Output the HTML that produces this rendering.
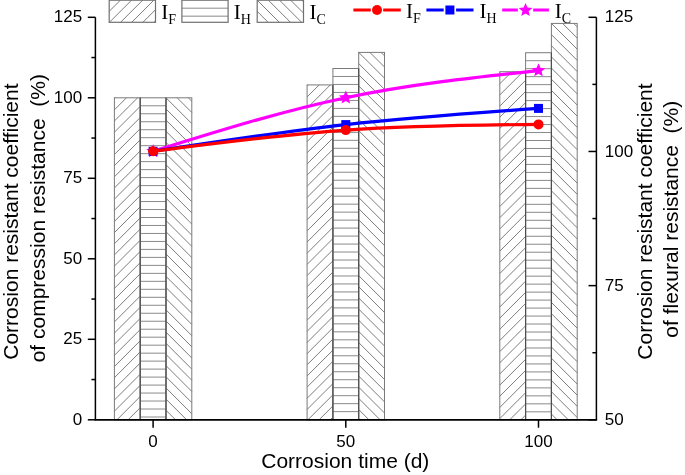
<!DOCTYPE html><html><head><meta charset="utf-8"><style>html,body{margin:0;padding:0;background:#fff;overflow:hidden}svg{display:block;will-change:transform}text{font-family:"Liberation Sans",sans-serif}text.s{font-family:"Liberation Serif",serif}</style></head><body><svg width="685" height="475" viewBox="0 0 685 475" fill="#000"><path d="M114.40,98.70L115.30,97.80M114.40,109.86L126.46,97.80M114.40,121.02L137.62,97.80M114.40,132.18L140.20,106.38M114.40,143.34L140.20,117.54M114.40,154.50L140.20,128.70M114.40,165.66L140.20,139.86M114.40,176.82L140.20,151.02M114.40,187.98L140.20,162.18M114.40,199.14L140.20,173.34M114.40,210.30L140.20,184.50M114.40,221.46L140.20,195.66M114.40,232.62L140.20,206.82M114.40,243.78L140.20,217.98M114.40,254.94L140.20,229.14M114.40,266.10L140.20,240.30M114.40,277.26L140.20,251.46M114.40,288.42L140.20,262.62M114.40,299.58L140.20,273.78M114.40,310.74L140.20,284.94M114.40,321.90L140.20,296.10M114.40,333.06L140.20,307.26M114.40,344.22L140.20,318.42M114.40,355.38L140.20,329.58M114.40,366.54L140.20,340.74M114.40,377.70L140.20,351.90M114.40,388.86L140.20,363.06M114.40,400.02L140.20,374.22M114.40,411.18L140.20,385.38M116.94,419.80L140.20,396.54M128.10,419.80L140.20,407.70M139.26,419.80L140.20,418.86" stroke="#5c5c5c" stroke-width="0.8" fill="none"/><rect x="114.40" y="97.80" width="25.8" height="322.00" fill="none" stroke="#7a7a7a" stroke-width="1.0"/><path d="M140.20,105.78L166.00,105.78M140.20,113.76L166.00,113.76M140.20,121.74L166.00,121.74M140.20,129.72L166.00,129.72M140.20,137.70L166.00,137.70M140.20,145.68L166.00,145.68M140.20,153.66L166.00,153.66M140.20,161.64L166.00,161.64M140.20,169.62L166.00,169.62M140.20,177.60L166.00,177.60M140.20,185.58L166.00,185.58M140.20,193.56L166.00,193.56M140.20,201.54L166.00,201.54M140.20,209.52L166.00,209.52M140.20,217.50L166.00,217.50M140.20,225.48L166.00,225.48M140.20,233.46L166.00,233.46M140.20,241.44L166.00,241.44M140.20,249.42L166.00,249.42M140.20,257.40L166.00,257.40M140.20,265.38L166.00,265.38M140.20,273.36L166.00,273.36M140.20,281.34L166.00,281.34M140.20,289.32L166.00,289.32M140.20,297.30L166.00,297.30M140.20,305.28L166.00,305.28M140.20,313.26L166.00,313.26M140.20,321.24L166.00,321.24M140.20,329.22L166.00,329.22M140.20,337.20L166.00,337.20M140.20,345.18L166.00,345.18M140.20,353.16L166.00,353.16M140.20,361.14L166.00,361.14M140.20,369.12L166.00,369.12M140.20,377.10L166.00,377.10M140.20,385.08L166.00,385.08M140.20,393.06L166.00,393.06M140.20,401.04L166.00,401.04M140.20,409.02L166.00,409.02M140.20,417.00L166.00,417.00" stroke="#6c6c6c" stroke-width="0.8" fill="none"/><rect x="140.20" y="97.80" width="25.8" height="322.00" fill="none" stroke="#7a7a7a" stroke-width="1.0"/><path d="M166.00,97.80L191.80,123.60M166.00,108.96L191.80,134.76M166.00,120.12L191.80,145.92M166.00,131.28L191.80,157.08M166.00,142.44L191.80,168.24M166.00,153.60L191.80,179.40M166.00,164.76L191.80,190.56M166.00,175.92L191.80,201.72M166.00,187.08L191.80,212.88M166.00,198.24L191.80,224.04M166.00,209.40L191.80,235.20M166.00,220.56L191.80,246.36M166.00,231.72L191.80,257.52M166.00,242.88L191.80,268.68M166.00,254.04L191.80,279.84M166.00,265.20L191.80,291.00M166.00,276.36L191.80,302.16M166.00,287.52L191.80,313.32M166.00,298.68L191.80,324.48M166.00,309.84L191.80,335.64M166.00,321.00L191.80,346.80M166.00,332.16L191.80,357.96M166.00,343.32L191.80,369.12M166.00,354.48L191.80,380.28M166.00,365.64L191.80,391.44M166.00,376.80L191.80,402.60M166.00,387.96L191.80,413.76M166.00,399.12L186.68,419.80M166.00,410.28L175.52,419.80M177.16,97.80L191.80,112.44M188.32,97.80L191.80,101.28" stroke="#5c5c5c" stroke-width="0.8" fill="none"/><rect x="166.00" y="97.80" width="25.8" height="322.00" fill="none" stroke="#7a7a7a" stroke-width="1.0"/><line x1="140.20" y1="97.80" x2="140.20" y2="419.8" stroke="#4c4c4c" stroke-width="1.1"/><line x1="166.00" y1="97.80" x2="166.00" y2="419.8" stroke="#4c4c4c" stroke-width="1.1"/><path d="M307.10,85.82L308.00,84.92M307.10,96.98L319.16,84.92M307.10,108.14L330.32,84.92M307.10,119.30L332.90,93.50M307.10,130.46L332.90,104.66M307.10,141.62L332.90,115.82M307.10,152.78L332.90,126.98M307.10,163.94L332.90,138.14M307.10,175.10L332.90,149.30M307.10,186.26L332.90,160.46M307.10,197.42L332.90,171.62M307.10,208.58L332.90,182.78M307.10,219.74L332.90,193.94M307.10,230.90L332.90,205.10M307.10,242.06L332.90,216.26M307.10,253.22L332.90,227.42M307.10,264.38L332.90,238.58M307.10,275.54L332.90,249.74M307.10,286.70L332.90,260.90M307.10,297.86L332.90,272.06M307.10,309.02L332.90,283.22M307.10,320.18L332.90,294.38M307.10,331.34L332.90,305.54M307.10,342.50L332.90,316.70M307.10,353.66L332.90,327.86M307.10,364.82L332.90,339.02M307.10,375.98L332.90,350.18M307.10,387.14L332.90,361.34M307.10,398.30L332.90,372.50M307.10,409.46L332.90,383.66M307.92,419.80L332.90,394.82M319.08,419.80L332.90,405.98M330.24,419.80L332.90,417.14" stroke="#5c5c5c" stroke-width="0.8" fill="none"/><rect x="307.10" y="84.92" width="25.8" height="334.88" fill="none" stroke="#7a7a7a" stroke-width="1.0"/><path d="M332.90,76.48L358.70,76.48M332.90,84.46L358.70,84.46M332.90,92.44L358.70,92.44M332.90,100.42L358.70,100.42M332.90,108.40L358.70,108.40M332.90,116.38L358.70,116.38M332.90,124.36L358.70,124.36M332.90,132.34L358.70,132.34M332.90,140.32L358.70,140.32M332.90,148.30L358.70,148.30M332.90,156.28L358.70,156.28M332.90,164.26L358.70,164.26M332.90,172.24L358.70,172.24M332.90,180.22L358.70,180.22M332.90,188.20L358.70,188.20M332.90,196.18L358.70,196.18M332.90,204.16L358.70,204.16M332.90,212.14L358.70,212.14M332.90,220.12L358.70,220.12M332.90,228.10L358.70,228.10M332.90,236.08L358.70,236.08M332.90,244.06L358.70,244.06M332.90,252.04L358.70,252.04M332.90,260.02L358.70,260.02M332.90,268.00L358.70,268.00M332.90,275.98L358.70,275.98M332.90,283.96L358.70,283.96M332.90,291.94L358.70,291.94M332.90,299.92L358.70,299.92M332.90,307.90L358.70,307.90M332.90,315.88L358.70,315.88M332.90,323.86L358.70,323.86M332.90,331.84L358.70,331.84M332.90,339.82L358.70,339.82M332.90,347.80L358.70,347.80M332.90,355.78L358.70,355.78M332.90,363.76L358.70,363.76M332.90,371.74L358.70,371.74M332.90,379.72L358.70,379.72M332.90,387.70L358.70,387.70M332.90,395.68L358.70,395.68M332.90,403.66L358.70,403.66M332.90,411.64L358.70,411.64" stroke="#6c6c6c" stroke-width="0.8" fill="none"/><rect x="332.90" y="68.50" width="25.8" height="351.30" fill="none" stroke="#7a7a7a" stroke-width="1.0"/><path d="M358.70,52.40L384.50,78.20M358.70,63.56L384.50,89.36M358.70,74.72L384.50,100.52M358.70,85.88L384.50,111.68M358.70,97.04L384.50,122.84M358.70,108.20L384.50,134.00M358.70,119.36L384.50,145.16M358.70,130.52L384.50,156.32M358.70,141.68L384.50,167.48M358.70,152.84L384.50,178.64M358.70,164.00L384.50,189.80M358.70,175.16L384.50,200.96M358.70,186.32L384.50,212.12M358.70,197.48L384.50,223.28M358.70,208.64L384.50,234.44M358.70,219.80L384.50,245.60M358.70,230.96L384.50,256.76M358.70,242.12L384.50,267.92M358.70,253.28L384.50,279.08M358.70,264.44L384.50,290.24M358.70,275.60L384.50,301.40M358.70,286.76L384.50,312.56M358.70,297.92L384.50,323.72M358.70,309.08L384.50,334.88M358.70,320.24L384.50,346.04M358.70,331.40L384.50,357.20M358.70,342.56L384.50,368.36M358.70,353.72L384.50,379.52M358.70,364.88L384.50,390.68M358.70,376.04L384.50,401.84M358.70,387.20L384.50,413.00M358.70,398.36L380.14,419.80M358.70,409.52L368.98,419.80M369.86,52.40L384.50,67.04M381.02,52.40L384.50,55.88" stroke="#5c5c5c" stroke-width="0.8" fill="none"/><rect x="358.70" y="52.40" width="25.8" height="367.40" fill="none" stroke="#7a7a7a" stroke-width="1.0"/><line x1="332.90" y1="84.92" x2="332.90" y2="419.8" stroke="#4c4c4c" stroke-width="1.1"/><line x1="358.70" y1="68.50" x2="358.70" y2="419.8" stroke="#4c4c4c" stroke-width="1.1"/><path d="M499.80,72.62L500.70,71.72M499.80,83.78L511.86,71.72M499.80,94.94L523.02,71.72M499.80,106.10L525.60,80.30M499.80,117.26L525.60,91.46M499.80,128.42L525.60,102.62M499.80,139.58L525.60,113.78M499.80,150.74L525.60,124.94M499.80,161.90L525.60,136.10M499.80,173.06L525.60,147.26M499.80,184.22L525.60,158.42M499.80,195.38L525.60,169.58M499.80,206.54L525.60,180.74M499.80,217.70L525.60,191.90M499.80,228.86L525.60,203.06M499.80,240.02L525.60,214.22M499.80,251.18L525.60,225.38M499.80,262.34L525.60,236.54M499.80,273.50L525.60,247.70M499.80,284.66L525.60,258.86M499.80,295.82L525.60,270.02M499.80,306.98L525.60,281.18M499.80,318.14L525.60,292.34M499.80,329.30L525.60,303.50M499.80,340.46L525.60,314.66M499.80,351.62L525.60,325.82M499.80,362.78L525.60,336.98M499.80,373.94L525.60,348.14M499.80,385.10L525.60,359.30M499.80,396.26L525.60,370.46M499.80,407.42L525.60,381.62M499.80,418.58L525.60,392.78M509.74,419.80L525.60,403.94M520.90,419.80L525.60,415.10" stroke="#5c5c5c" stroke-width="0.8" fill="none"/><rect x="499.80" y="71.72" width="25.8" height="348.08" fill="none" stroke="#7a7a7a" stroke-width="1.0"/><path d="M525.60,60.70L551.40,60.70M525.60,68.68L551.40,68.68M525.60,76.66L551.40,76.66M525.60,84.64L551.40,84.64M525.60,92.62L551.40,92.62M525.60,100.60L551.40,100.60M525.60,108.58L551.40,108.58M525.60,116.56L551.40,116.56M525.60,124.54L551.40,124.54M525.60,132.52L551.40,132.52M525.60,140.50L551.40,140.50M525.60,148.48L551.40,148.48M525.60,156.46L551.40,156.46M525.60,164.44L551.40,164.44M525.60,172.42L551.40,172.42M525.60,180.40L551.40,180.40M525.60,188.38L551.40,188.38M525.60,196.36L551.40,196.36M525.60,204.34L551.40,204.34M525.60,212.32L551.40,212.32M525.60,220.30L551.40,220.30M525.60,228.28L551.40,228.28M525.60,236.26L551.40,236.26M525.60,244.24L551.40,244.24M525.60,252.22L551.40,252.22M525.60,260.20L551.40,260.20M525.60,268.18L551.40,268.18M525.60,276.16L551.40,276.16M525.60,284.14L551.40,284.14M525.60,292.12L551.40,292.12M525.60,300.10L551.40,300.10M525.60,308.08L551.40,308.08M525.60,316.06L551.40,316.06M525.60,324.04L551.40,324.04M525.60,332.02L551.40,332.02M525.60,340.00L551.40,340.00M525.60,347.98L551.40,347.98M525.60,355.96L551.40,355.96M525.60,363.94L551.40,363.94M525.60,371.92L551.40,371.92M525.60,379.90L551.40,379.90M525.60,387.88L551.40,387.88M525.60,395.86L551.40,395.86M525.60,403.84L551.40,403.84M525.60,411.82L551.40,411.82" stroke="#6c6c6c" stroke-width="0.8" fill="none"/><rect x="525.60" y="52.72" width="25.8" height="367.08" fill="none" stroke="#7a7a7a" stroke-width="1.0"/><path d="M551.40,23.42L577.20,49.22M551.40,34.58L577.20,60.38M551.40,45.74L577.20,71.54M551.40,56.90L577.20,82.70M551.40,68.06L577.20,93.86M551.40,79.22L577.20,105.02M551.40,90.38L577.20,116.18M551.40,101.54L577.20,127.34M551.40,112.70L577.20,138.50M551.40,123.86L577.20,149.66M551.40,135.02L577.20,160.82M551.40,146.18L577.20,171.98M551.40,157.34L577.20,183.14M551.40,168.50L577.20,194.30M551.40,179.66L577.20,205.46M551.40,190.82L577.20,216.62M551.40,201.98L577.20,227.78M551.40,213.14L577.20,238.94M551.40,224.30L577.20,250.10M551.40,235.46L577.20,261.26M551.40,246.62L577.20,272.42M551.40,257.78L577.20,283.58M551.40,268.94L577.20,294.74M551.40,280.10L577.20,305.90M551.40,291.26L577.20,317.06M551.40,302.42L577.20,328.22M551.40,313.58L577.20,339.38M551.40,324.74L577.20,350.54M551.40,335.90L577.20,361.70M551.40,347.06L577.20,372.86M551.40,358.22L577.20,384.02M551.40,369.38L577.20,395.18M551.40,380.54L577.20,406.34M551.40,391.70L577.20,417.50M551.40,402.86L568.34,419.80M551.40,414.02L557.18,419.80M562.56,23.42L577.20,38.06M573.72,23.42L577.20,26.90" stroke="#5c5c5c" stroke-width="0.8" fill="none"/><rect x="551.40" y="23.42" width="25.8" height="396.38" fill="none" stroke="#7a7a7a" stroke-width="1.0"/><line x1="525.60" y1="71.72" x2="525.60" y2="419.8" stroke="#4c4c4c" stroke-width="1.1"/><line x1="551.40" y1="52.72" x2="551.40" y2="419.8" stroke="#4c4c4c" stroke-width="1.1"/><path d="M109.20,11.36L120.36,0.20M109.42,22.30L131.52,0.20M120.58,22.30L142.68,0.20M131.74,22.30L153.84,0.20M142.90,22.30L155.50,9.70M154.06,22.30L155.50,20.86" stroke="#5c5c5c" stroke-width="0.8" fill="none"/><rect x="109.2" y="0.2" width="46.30" height="22.10" fill="none" stroke="#707070" stroke-width="1.2"/><path d="M181.90,8.18L228.10,8.18M181.90,16.16L228.10,16.16" stroke="#6c6c6c" stroke-width="0.8" fill="none"/><rect x="181.9" y="0.2" width="46.20" height="22.10" fill="none" stroke="#707070" stroke-width="1.2"/><path d="M257.20,0.20L279.30,22.30M257.20,11.36L268.14,22.30M268.36,0.20L290.46,22.30M279.52,0.20L301.62,22.30M290.68,0.20L303.50,13.02M301.84,0.20L303.50,1.86" stroke="#5c5c5c" stroke-width="0.8" fill="none"/><rect x="257.2" y="0.2" width="46.30" height="22.10" fill="none" stroke="#707070" stroke-width="1.2"/><text x="161.2" y="19" class="s" font-size="21">I</text><text x="168.2" y="24" class="s" font-size="14">F</text><text x="233.8" y="19" class="s" font-size="21">I</text><text x="240.8" y="24" class="s" font-size="14">H</text><text x="309.5" y="19" class="s" font-size="21">I</text><text x="316.5" y="24" class="s" font-size="14">C</text><path d="M153.10,151.30 C217.33,131.23 281.57,111.17 345.80,97.70 C410.03,84.23 474.27,77.37 538.50,70.50" fill="none" stroke="#ff00ff" stroke-width="3.2"/><g fill="#ff00ff"><polygon points="153.10,144.05 155.02,148.66 160.00,149.06 156.20,152.31 157.36,157.17 153.10,154.56 148.84,157.17 150.00,152.31 146.20,149.06 151.18,148.66"/></g><g fill="#ff00ff"><polygon points="345.80,90.45 347.72,95.06 352.70,95.46 348.90,98.71 350.06,103.57 345.80,100.96 341.54,103.57 342.70,98.71 338.90,95.46 343.88,95.06"/></g><g fill="#ff00ff"><polygon points="538.50,63.25 540.42,67.86 545.40,68.26 541.60,71.51 542.76,76.37 538.50,73.76 534.24,76.37 535.40,71.51 531.60,68.26 536.58,67.86"/></g><path d="M153.10,151.30 C217.33,141.53 281.57,131.75 345.80,124.60 C410.03,117.45 474.27,112.92 538.50,108.40" fill="none" stroke="#0000ff" stroke-width="3.2"/><rect x="148.60" y="146.80" width="9" height="9" fill="#0000ff"/><rect x="341.30" y="120.10" width="9" height="9" fill="#0000ff"/><rect x="534.00" y="103.90" width="9" height="9" fill="#0000ff"/><path d="M153.10,151.30 C217.33,142.94 281.57,134.58 345.80,130.10 C410.03,125.62 474.27,125.01 538.50,124.40" fill="none" stroke="#ff0000" stroke-width="3.2"/><circle cx="153.10" cy="151.30" r="5.0" fill="#ff0000"/><circle cx="345.80" cy="130.10" r="5.0" fill="#ff0000"/><circle cx="538.50" cy="124.40" r="5.0" fill="#ff0000"/><path d="M353.4,10.0H370.80M383.20,10.0H400.8" stroke="#ff0000" stroke-width="3.2"/><circle cx="377.00" cy="10.00" r="5.0" fill="#ff0000"/><text x="406.0" y="17.5" class="s" font-size="21">I</text><text x="413.0" y="22.5" class="s" font-size="14">F</text><path d="M426.4,10.0H443.70M456.10,10.0H473.5" stroke="#0000ff" stroke-width="3.2"/><rect x="445.40" y="5.50" width="9" height="9" fill="#0000ff"/><text x="479.4" y="17.5" class="s" font-size="21">I</text><text x="486.4" y="22.5" class="s" font-size="14">H</text><path d="M502.2,10.0H517.90M533.20,10.0H548.9" stroke="#ff00ff" stroke-width="3.2"/><g fill="#ff00ff"><polygon points="525.55,2.90 527.47,7.51 532.45,7.91 528.65,11.16 529.81,16.02 525.55,13.41 521.29,16.02 522.45,11.16 518.65,7.91 523.63,7.51"/></g><text x="554.8" y="17.5" class="s" font-size="21">I</text><text x="561.8" y="22.5" class="s" font-size="14">C</text><line x1="95.4" y1="17.3" x2="95.4" y2="419.8" stroke="#000" stroke-width="1.5"/><line x1="596.4" y1="17.3" x2="596.4" y2="419.8" stroke="#000" stroke-width="1.5"/><line x1="94.65" y1="419.8" x2="597.15" y2="419.8" stroke="#000" stroke-width="1.7"/><line x1="87.80000000000001" y1="419.80" x2="95.4" y2="419.80" stroke="#000" stroke-width="1.5"/><text x="82.1" y="424.90" text-anchor="end" font-size="17">0</text><line x1="87.80000000000001" y1="339.30" x2="95.4" y2="339.30" stroke="#000" stroke-width="1.5"/><text x="82.1" y="344.40" text-anchor="end" font-size="17">25</text><line x1="87.80000000000001" y1="258.80" x2="95.4" y2="258.80" stroke="#000" stroke-width="1.5"/><text x="82.1" y="263.90" text-anchor="end" font-size="17">50</text><line x1="87.80000000000001" y1="178.30" x2="95.4" y2="178.30" stroke="#000" stroke-width="1.5"/><text x="82.1" y="183.40" text-anchor="end" font-size="17">75</text><line x1="87.80000000000001" y1="97.80" x2="95.4" y2="97.80" stroke="#000" stroke-width="1.5"/><text x="82.1" y="102.90" text-anchor="end" font-size="17">100</text><line x1="87.80000000000001" y1="17.30" x2="95.4" y2="17.30" stroke="#000" stroke-width="1.5"/><text x="82.1" y="22.40" text-anchor="end" font-size="17">125</text><line x1="91.4" y1="379.55" x2="95.4" y2="379.55" stroke="#000" stroke-width="1.5"/><line x1="91.4" y1="299.05" x2="95.4" y2="299.05" stroke="#000" stroke-width="1.5"/><line x1="91.4" y1="218.55" x2="95.4" y2="218.55" stroke="#000" stroke-width="1.5"/><line x1="91.4" y1="138.05" x2="95.4" y2="138.05" stroke="#000" stroke-width="1.5"/><line x1="91.4" y1="57.55" x2="95.4" y2="57.55" stroke="#000" stroke-width="1.5"/><line x1="588.5" y1="419.80" x2="596.4" y2="419.80" stroke="#000" stroke-width="1.5"/><text x="604.8" y="424.90" font-size="17">50</text><line x1="588.5" y1="285.63" x2="596.4" y2="285.63" stroke="#000" stroke-width="1.5"/><text x="604.8" y="290.73" font-size="17">75</text><line x1="588.5" y1="151.47" x2="596.4" y2="151.47" stroke="#000" stroke-width="1.5"/><text x="604.8" y="156.57" font-size="17">100</text><line x1="588.5" y1="17.30" x2="596.4" y2="17.30" stroke="#000" stroke-width="1.5"/><text x="604.8" y="22.40" font-size="17">125</text><line x1="592.4" y1="352.72" x2="596.4" y2="352.72" stroke="#000" stroke-width="1.5"/><line x1="592.4" y1="218.55" x2="596.4" y2="218.55" stroke="#000" stroke-width="1.5"/><line x1="592.4" y1="84.38" x2="596.4" y2="84.38" stroke="#000" stroke-width="1.5"/><line x1="153.10" y1="419.8" x2="153.10" y2="427.7" stroke="#000" stroke-width="1.5"/><text x="153.10" y="446.5" text-anchor="middle" font-size="17">0</text><line x1="345.80" y1="419.8" x2="345.80" y2="427.7" stroke="#000" stroke-width="1.5"/><text x="345.80" y="446.5" text-anchor="middle" font-size="17">50</text><line x1="538.50" y1="419.8" x2="538.50" y2="427.7" stroke="#000" stroke-width="1.5"/><text x="538.50" y="446.5" text-anchor="middle" font-size="17">100</text><text x="345.3" y="467.6" text-anchor="middle" font-size="21">Corrosion time (d)</text><text transform="translate(18.4,221.6) rotate(-90)" text-anchor="middle" font-size="21">Corrosion resistant coefficient</text><text transform="translate(45.1,218.2) rotate(-90)" text-anchor="middle" font-size="21" xml:space="preserve">of compression resistance  (%)</text><text transform="translate(652.0,221.5) rotate(-90)" text-anchor="middle" font-size="21">Corrosion resistant coefficient</text><text transform="translate(678.3,219.2) rotate(-90)" text-anchor="middle" font-size="21" xml:space="preserve">of flexural resistance  (%)</text></svg></body></html>
